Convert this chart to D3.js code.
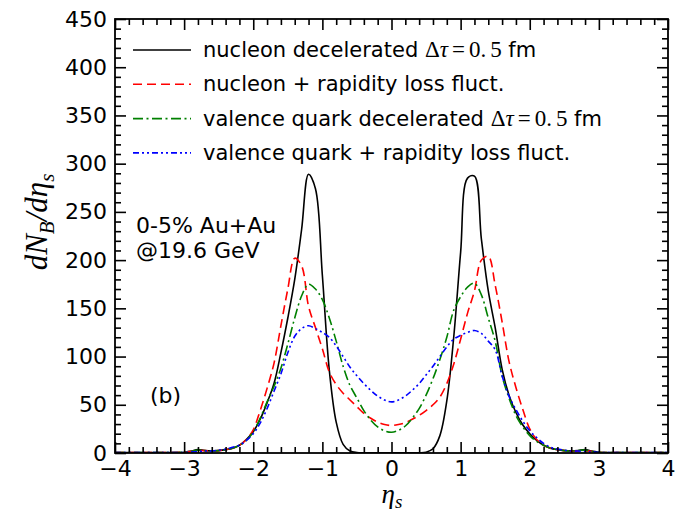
<!DOCTYPE html>
<html>
<head>
<meta charset="utf-8">
<script src="https://cdn.jsdelivr.net/npm/d3@7"></script>
<style>
  html, body { margin: 0; padding: 0; background: #fff; }
  svg { display: block; }
  text { font-family: "DejaVu Sans", sans-serif; fill: #000; }
</style>
</head>
<body>
<svg id="chart" width="683" height="515"></svg>
<script>
// ---------- data ----------
const eta = [-4.0, -3.6, -3.2,
  -3.0, -2.9, -2.8, -2.7, -2.6, -2.5, -2.4, -2.3, -2.2, -2.1,
  -2.0, -1.9, -1.8, -1.7, -1.6, -1.5, -1.4, -1.3, -1.2, -1.1,
  -1.0, -0.9, -0.8, -0.7, -0.6, -0.5, -0.4, -0.3, -0.2, -0.1,
  0.0, 0.1, 0.2, 0.3, 0.4, 0.5, 0.6, 0.7, 0.8, 0.9,
  1.0, 1.1, 1.2, 1.3, 1.4, 1.5, 1.6, 1.7, 1.8, 1.9,
  2.0, 2.1, 2.2, 2.3, 2.4, 2.5, 2.6, 2.7, 2.8, 2.9,
  3.0, 3.2, 3.6, 4.0];

const nucleonDecel = [0.4, 0.4, 0.4,
  0.8, 2, 3.5, 2.5, 2, 2.5, 3.5, 5, 8, 14,
  22, 35, 52, 72, 104, 140, 180, 232, 289, 274,
  184, 86, 32, 9, 2, 0.5, 0.3, 0.3, 0.3, 0.3,
  0.3, 0.3, 0.3, 0.3, 0.3, 0.8, 4.4, 18, 54, 120,
  208, 285, 287, 222, 168, 130, 87, 60, 42, 29,
  20, 13, 8, 5, 3.5, 2.5, 2, 2.5, 3.5, 2,
  0.8, 0.4, 0.4, 0.4];

const nucleonFluct = [0.4, 0.4, 0.4,
  0.8, 1.5, 2.5, 2.5, 2, 2.5, 3.5, 5, 8, 14,
  24, 44, 67, 93, 132, 170, 202, 194, 152, 130,
  108, 84, 71, 62, 55, 48, 41, 36, 32, 29.5,
  28.5, 29.5, 31.5, 35, 39, 44, 50, 58, 72, 92,
  118, 145, 168, 200, 204, 174, 136, 95, 68, 45,
  25, 14, 8, 5, 3.5, 2.5, 2, 2, 2.5, 1.5,
  0.8, 0.4, 0.4, 0.4];

const quarkDecel = [0.4, 0.4, 0.4,
  0.8, 1.5, 3, 2.5, 2, 2.5, 3.5, 5, 8, 13,
  22, 36, 53, 69, 88, 113, 140, 163, 175, 170,
  159, 140, 116, 90, 70, 57, 44, 34, 27, 23,
  21.5, 23.5, 28, 36, 46, 60, 77, 97, 120, 148,
  162, 172, 176, 164, 140, 116, 80, 57, 39, 27,
  18, 12, 8, 5, 3.5, 2.5, 2, 2.5, 3, 1.5,
  0.8, 0.4, 0.4, 0.4];

const quarkFluct = [0.4, 0.4, 0.4,
  0.6, 1, 1.5, 2, 2, 3, 4, 6, 8, 13,
  20, 31, 46, 64, 82, 104, 121, 129, 132, 129,
  125, 120, 111, 100, 89, 80, 72, 65, 59, 55,
  53, 55, 59, 65, 72, 81, 90, 100, 110, 118,
  122, 125, 127, 124, 116, 107, 80, 59, 45, 33,
  23, 16, 10, 6, 4, 3, 2, 2, 1.5, 1,
  0.6, 0.4, 0.4, 0.4];

const seriesLabels = [
  "nucleon decelerated Δτ=0.5 fm",
  "nucleon + rapidity loss fluct.",
  "valence quark decelerated Δτ=0.5 fm",
  "valence quark + rapidity loss fluct."
];
const seriesValues = [nucleonDecel, nucleonFluct, quarkDecel, quarkFluct];
const seriesColors = ["#000000", "#ff0000", "#008000", "#0000ff"];
const seriesDashes = [null, "9,5", "10,3.5,2,3.5", "6,3,2,3,2,3"];

const xMajorTicks = [-4, -3, -2, -1, 0, 1, 2, 3, 4];
const yMajorTicks = [0, 50, 100, 150, 200, 250, 300, 350, 400, 450];

// ---------- layout ----------
const svg = d3.select("#chart");
const L = 115, R = 668, T = 19, B = 453;
const x = d3.scaleLinear().domain([-4, 4]).range([L, R]);
const y = d3.scaleLinear().domain([0, 450]).range([B, T]);

const xMinor = d3.range(-40, 41, 2).map(d => d / 10).filter(v => Math.abs(v - Math.round(v)) > 1e-6);
const yMinor = d3.range(0, 451, 10).filter(v => v % 50 !== 0);

const MAJ = 11, MIN = 6;

// clip
svg.append("defs").append("clipPath").attr("id", "clip")
  .append("rect").attr("x", L).attr("y", T).attr("width", R - L).attr("height", B - T);

// curves
const line = d3.line()
  .x((d, i) => x(eta[i]))
  .y(d => y(d))
  .curve(d3.curveCatmullRom.alpha(0.5));

const g = svg.append("g").attr("clip-path", "url(#clip)");
seriesValues.forEach((vals, k) => {
  g.append("path")
    .attr("d", line(vals))
    .attr("fill", "none")
    .attr("stroke", seriesColors[k])
    .attr("stroke-width", 1.6)
    .attr("stroke-dasharray", seriesDashes[k]);
});

// axes
function styleAxis(sel) {
  sel.select(".domain").remove();
  sel.selectAll(".tick line").attr("stroke", "#000").attr("stroke-width", 1.6);
  sel.selectAll(".tick text").style("font-family", "DejaVu Sans, sans-serif").style("font-size", "22px").attr("fill", "#000");
}

svg.append("g").attr("transform", `translate(0,${B})`)
  .call(d3.axisBottom(x).tickValues(xMajorTicks).tickSize(-MAJ).tickPadding(7)
    .tickFormat(d => d < 0 ? "\u2212" + Math.abs(d) : String(d)))
  .call(styleAxis);
svg.append("g").attr("transform", `translate(0,${B})`)
  .call(d3.axisBottom(x).tickValues(xMinor).tickSize(-MIN).tickFormat(""))
  .call(styleAxis);
svg.append("g").attr("transform", `translate(0,${T})`)
  .call(d3.axisTop(x).tickValues(xMajorTicks).tickSize(-MAJ).tickFormat(""))
  .call(styleAxis);
svg.append("g").attr("transform", `translate(0,${T})`)
  .call(d3.axisTop(x).tickValues(xMinor).tickSize(-MIN).tickFormat(""))
  .call(styleAxis);

svg.append("g").attr("transform", `translate(${L},0)`)
  .call(d3.axisLeft(y).tickValues(yMajorTicks).tickSize(-MAJ).tickPadding(8).tickFormat(d3.format("d")))
  .call(styleAxis);
svg.append("g").attr("transform", `translate(${L},0)`)
  .call(d3.axisLeft(y).tickValues(yMinor).tickSize(-MIN).tickFormat(""))
  .call(styleAxis);
svg.append("g").attr("transform", `translate(${R},0)`)
  .call(d3.axisRight(y).tickValues(yMajorTicks).tickSize(-MAJ).tickFormat(""))
  .call(styleAxis);
svg.append("g").attr("transform", `translate(${R},0)`)
  .call(d3.axisRight(y).tickValues(yMinor).tickSize(-MIN).tickFormat(""))
  .call(styleAxis);

// frame
svg.append("rect").attr("x", L).attr("y", T).attr("width", R - L).attr("height", B - T)
  .attr("fill", "none").attr("stroke", "#000").attr("stroke-width", 1.8);

// axis labels
const yl = svg.append("text")
  .attr("transform", "translate(47,222) rotate(-90)")
  .attr("text-anchor", "middle")
  .style("font-family", "Liberation Serif, DejaVu Serif, serif")
  .style("font-style", "italic")
  .style("font-size", "31px");
yl.append("tspan").text("dN");
yl.append("tspan").attr("dy", 7).style("font-size", "21px").text("B");
yl.append("tspan").attr("dy", -7).text("/dη");
yl.append("tspan").attr("dy", 7).style("font-size", "21px").text("s");

const xl = svg.append("text")
  .attr("x", 392).attr("y", 503)
  .attr("text-anchor", "middle")
  .style("font-family", "Liberation Serif, DejaVu Serif, serif")
  .style("font-style", "italic")
  .style("font-size", "27px");
xl.append("tspan").text("η");
xl.append("tspan").attr("dy", 5).style("font-size", "19px").text("s");

// legend
const legY0 = 50, legDY = 34.3;
const serif = "Liberation Serif, serif";
seriesLabels.forEach((lab, k) => {
  const yy = legY0 + k * legDY;
  svg.append("line")
    .attr("x1", 133).attr("x2", 191).attr("y1", yy).attr("y2", yy)
    .attr("stroke", seriesColors[k]).attr("stroke-width", 1.6)
    .attr("stroke-dasharray", seriesDashes[k]);
  const t = svg.append("text").attr("x", 203).attr("y", yy + 7).style("font-size", "21px");
  const idx = lab.indexOf("Δτ=0.5");
  if (idx < 0) {
    t.append("tspan").text(lab);
  } else {
    t.append("tspan").text(lab.slice(0, idx));
    t.append("tspan").style("font-family", serif).style("font-size", "23px").text("Δ");
    t.append("tspan").style("font-family", serif).style("font-style", "italic").style("font-size", "23px").text("τ");
    t.append("tspan").attr("dx", 4).style("font-family", serif).style("font-size", "23px").text("=");
    t.append("tspan").attr("dx", 4).style("font-family", serif).style("font-size", "23px").text("0.");
    t.append("tspan").attr("dx", 4).style("font-family", serif).style("font-size", "23px").text("5");
    t.append("tspan").text(lab.slice(idx + 6));
  }
});

// annotations
svg.append("text").attr("x", 136).attr("y", 233).style("font-size", "22px").text("0-5% Au+Au");
svg.append("text").attr("x", 136).attr("y", 258).style("font-size", "22px").text("@19.6 GeV");
svg.append("text").attr("x", 150).attr("y", 403).style("font-size", "22px").text("(b)");
</script>
</body>
</html>
